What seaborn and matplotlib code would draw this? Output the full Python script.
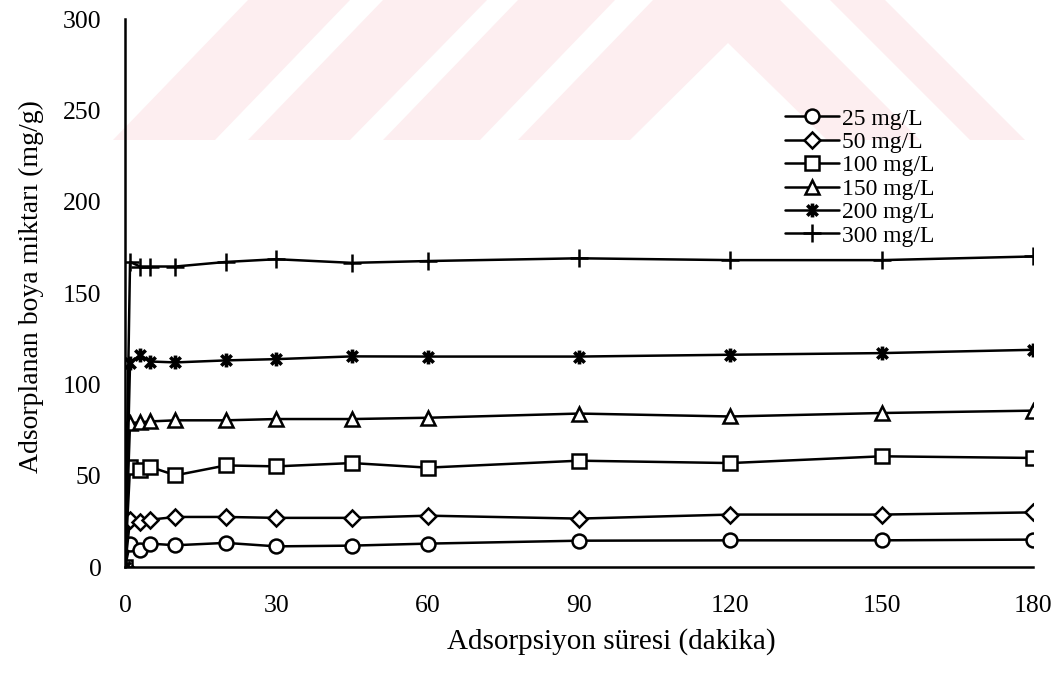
import numpy as np
import pandas as pd
import matplotlib
matplotlib.use("Agg")
import matplotlib.pyplot as plt
from matplotlib.patches import Polygon
from matplotlib.path import Path
import seaborn as sns

# ---- data ----
times = [0, 1, 3, 5, 10, 20, 30, 45, 60, 90, 120, 150, 180]
c25 = [0, 12.8, 9.1, 12.8, 11.9, 13.2, 11.3, 11.7, 12.8, 14.4, 14.6, 14.6, 15.0]
c50 = [0, 25.9, 24.5, 25.9, 27.4, 27.4, 26.9, 26.9, 28.1, 26.5, 28.7, 28.7, 29.9]
c100 = [0, 54.8, 52.9, 54.8, 50.2, 55.6, 55.1, 56.9, 54.4, 58.2, 56.9, 60.6, 59.7]
c150 = [0, 78.8, 79.2, 79.7, 80.3, 80.3, 81.0, 81.0, 81.7, 84.0, 82.4, 84.3, 85.6]
c200 = [0, 111.6, 116.2, 112.5, 112.0, 113.1, 113.8, 115.3, 115.2, 115.2, 116.2, 117.1, 118.9]
c300 = [0, 167.0, 164.5, 164.5, 164.5, 167.0, 168.5, 166.5, 167.5, 169.0, 168.0, 168.0, 170.0]
series_labels = ["25 mg/L", "50 mg/L", "100 mg/L", "150 mg/L", "200 mg/L", "300 mg/L"]
x_ticks = [0, 30, 60, 90, 120, 150, 180]
y_ticks = [0, 50, 100, 150, 200, 250, 300]
x_label = "Adsorpsiyon süresi (dakika)"
y_label = "Adsorplanan boya miktarı (mg/g)"

sns.set_theme(style="white")
plt.rcParams["font.family"] = ["Liberation Serif", "DejaVu Serif"]

W, H = 1055, 682
fig = plt.figure(figsize=(W / 100, H / 100), dpi=100)

# faint watermark (background decoration, figure pixel coordinates)
wm_color = "#fdeef0"
def fpoly(pts):
    return Polygon([(x / W, 1 - y / H) for x, y in pts], closed=True,
                   transform=fig.transFigure, facecolor=wm_color,
                   edgecolor="none", zorder=-5)
wm_shapes = [
    [(113, 140), (248, 0), (350, 0), (215, 140)],
    [(248, 140), (383, 0), (487, 0), (350, 140)],
    [(383, 140), (518, 0), (615, 0), (480, 140)],
    [(518, 140), (653, 0), (780, 0), (920, 140), (827, 140), (728, 43), (630, 140)],
    [(830, 0), (885, 0), (1025, 140), (970, 140)],
]
for s in wm_shapes:
    fig.patches.append(fpoly(s))

ax = fig.add_axes([125 / W, 1 - 567 / H, (1033 - 125) / W, (567 - 19) / H])
ax.patch.set_alpha(0)
ax.set_zorder(2)

df = pd.DataFrame({"t": times, "25": c25, "50": c50, "100": c100,
                   "150": c150, "200": c200, "300": c300})

star = Path([(0, -1), (0, 1), (-0.75, -0.75), (0.75, 0.75), (-0.75, 0.75), (0.75, -0.75)],
            [Path.MOVETO, Path.LINETO] * 3)
styles = [
    ("25", "o", 10, "white"),
    ("50", "D", 8, "white"),
    ("100", "s", 10, "white"),
    ("150", "^", 10, "white"),
    ("200", star, 10, "black"),
    ("300", "+", 13, "black"),
]
for (col, mk, ms, mfc), lab in zip(styles, series_labels):
    sns.lineplot(data=df, x="t", y=col, ax=ax, color="black", linewidth=1.8,
                 marker=mk, markersize=ms, markerfacecolor=mfc,
                 markeredgecolor="black", markeredgewidth=1.8 if mk is not star else 2.6,
                 label=lab, legend=False)

ax.set_xlim(0, 180)
ax.set_ylim(0, 300)
ax.set_xticks(x_ticks)
ax.set_yticks(y_ticks)
ax.set_xticklabels([str(v) for v in x_ticks])
ax.set_yticklabels([str(v) for v in y_ticks])
for sp in ["top", "right"]:
    ax.spines[sp].set_visible(False)
for sp in ["left", "bottom"]:
    ax.spines[sp].set_color("black")
    ax.spines[sp].set_linewidth(1.8)
ax.tick_params(axis="both", direction="out", length=7, width=1.6, color="black",
               labelsize=18.5, labelcolor="black")
ax.tick_params(axis="y", pad=10)
ax.tick_params(axis="x", pad=13)
ax.grid(False)

ax.set_xlabel(x_label, fontsize=21, color="black")
ax.set_ylabel(y_label, fontsize=20, color="black")
ax.xaxis.set_label_coords((611 - 125) / 908, (567 - 628) / 548)
ax.yaxis.set_label_coords((44 - 125) / 908, (567 - 287) / 548)

handles, labels = ax.get_legend_handles_labels()
leg = ax.legend(handles, labels, loc="upper left",
                bbox_to_anchor=(785 / W, 1 - 108 / H), bbox_transform=fig.transFigure,
                frameon=False, fontsize=17, handlelength=2.3, handletextpad=0.1,
                labelspacing=0.08, borderpad=0, borderaxespad=0)
for t in leg.get_texts():
    t.set_color("black")

fig.savefig("out.png", dpi=100)
